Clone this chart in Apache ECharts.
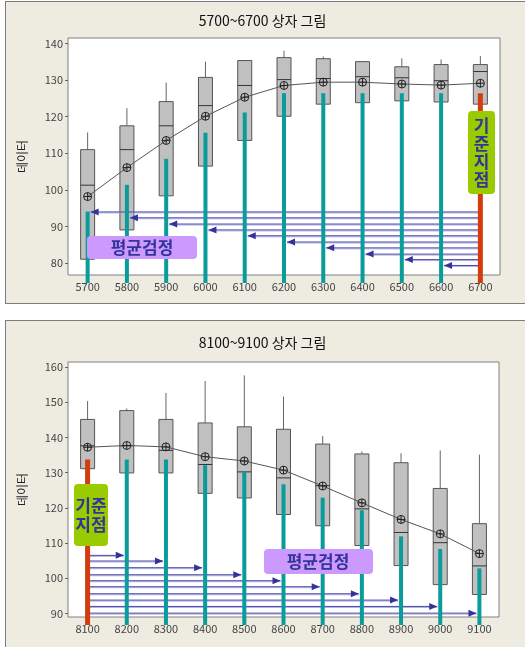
<!DOCTYPE html>
<html>
<head>
<meta charset="utf-8">
<script src="https://cdn.jsdelivr.net/npm/echarts@6/dist/echarts.min.js"></script>
<style>
html, body { margin:0; padding:0; background:#fff; overflow:hidden; }
#wrap { position:relative; width:525px; height:647px; overflow:hidden; }
.panel { position:absolute; background:#eeebe1; border:1px solid #7c7c7c; }
#main { position:absolute; left:0; top:0; width:525px; height:647px; }
</style>
</head>
<body>
<div id="wrap">
  <div class="panel" style="left:5px;top:1px;width:540px;height:301px"></div>
  <div class="panel" style="left:5px;top:320px;width:540px;height:340px"></div>
  <div id="main"></div>
</div>
<script>
const chart = echarts.init(document.getElementById('main'))

// 5700~6700
const catsA  = ['5700','5800','5900','6000','6100','6200','6300','6400','6500','6600','6700']
const hiA    = [115.7, 122.3, 129.3, 135.0, 135.3, 138.0, 136.4, 135.2, 135.9, 135.6, 136.5]
const q3A    = [111.0, 117.5, 124.1, 130.7, 135.3, 136.1, 135.8, 135.0, 133.6, 134.2, 134.2]
const medA   = [101.3, 111.0, 117.5, 123.0, 128.5, 130.1, 130.4, 130.9, 130.6, 129.8, 132.3]
const q1A    = [81.1, 89.1, 98.4, 106.5, 113.5, 120.1, 123.4, 123.8, 124.3, 124.0, 123.4]
const meanA  = [98.2, 106.1, 113.5, 120.1, 125.3, 128.5, 129.4, 129.4, 128.9, 128.6, 129.1]
const barA   = [94.1, 101.4, 108.5, 115.6, 121.1, 126.4, 126.4, 126.4, 126.4, 126.4, 126.4]
const arrowA = [94.0, 92.4, 90.7, 89.1, 87.5, 85.8, 84.2, 82.5, 81.0, 79.4]
const refA = 10

// 8100~9100
const catsB  = ['8100','8200','8300','8400','8500','8600','8700','8800','8900','9000','9100']
const hiB    = [150.3, 148.2, 152.6, 156.0, 157.6, 151.6, 140.4, 136.0, 135.5, 136.3, 135.1]
const q3B    = [145.1, 147.6, 145.1, 144.1, 143.0, 142.3, 138.1, 135.3, 132.8, 125.5, 115.5]
const medB   = [137.6, 137.6, 136.3, 132.3, 130.2, 128.5, 126.3, 119.7, 113.0, 110.1, 103.5]
const q1B    = [131.1, 129.9, 129.9, 124.1, 122.8, 118.1, 114.9, 109.3, 103.6, 98.2, 95.4]
const meanB  = [137.2, 137.7, 137.3, 134.5, 133.3, 130.7, 126.2, 121.4, 116.7, 112.6, 107.0]
const barB   = [133.7, 133.7, 133.7, 132.1, 130.2, 126.7, 122.9, 119.3, 111.9, 108.3, 102.8]
const arrowB = [106.5, 104.9, 103.0, 101.0, 99.3, 97.6, 95.6, 93.8, 92.0, 90.1]
const refB = 0

const font = 'Noto Sans CJK KR'

function boxItem(params, api) {
  const i = api.value(0)
  const hi = api.coord([i, api.value(1)])
  const q3 = api.coord([i, api.value(2)])
  const md = api.coord([i, api.value(3)])
  const q1 = api.coord([i, api.value(4)])
  const w = 14
  return {
    type: 'group',
    children: [
      { type: 'line', shape: { x1: hi[0], y1: hi[1], x2: q3[0], y2: q3[1] }, style: { stroke: '#666', lineWidth: 1 } },
      { type: 'rect', shape: { x: q3[0] - w / 2, y: q3[1], width: w, height: q1[1] - q3[1] }, style: { fill: '#c0c0c0', stroke: '#555', lineWidth: 1 } },
      { type: 'line', shape: { x1: md[0] - w / 2, y1: md[1], x2: md[0] + w / 2, y2: md[1] }, style: { stroke: '#333', lineWidth: 1 } }
    ]
  }
}

function meanItem(params, api) {
  const p = api.coord([api.value(0), api.value(1)])
  const r = 4
  return {
    type: 'group',
    children: [
      { type: 'circle', shape: { cx: p[0], cy: p[1], r: r }, style: { fill: 'none', stroke: '#222', lineWidth: 1 } },
      { type: 'line', shape: { x1: p[0] - r, y1: p[1], x2: p[0] + r, y2: p[1] }, style: { stroke: '#222', lineWidth: 1 } },
      { type: 'line', shape: { x1: p[0], y1: p[1] - r, x2: p[0], y2: p[1] + r }, style: { stroke: '#222', lineWidth: 1 } }
    ]
  }
}

function barItem(refIdx) {
  return function (params, api) {
    const i = api.value(0)
    const top = api.coord([i, api.value(1)])
    const cs = params.coordSys
    const base = cs.y + cs.height + 8
    const isRef = i === refIdx
    const w = isRef ? 5 : 4
    return {
      type: 'rect',
      shape: { x: top[0] - w / 2, y: top[1], width: w, height: base - top[1] },
      style: { fill: isRef ? '#d33c0e' : '#0a9b9b' }
    }
  }
}

function arrowItem(refIdx) {
  return function (params, api) {
    const y = api.value(1)
    const from = api.coord([refIdx, y])
    const to = api.coord([api.value(0), y])
    const dir = to[0] < from[0] ? -1 : 1
    const tip = to[0] - dir * 3
    const py = to[1]
    return {
      type: 'group',
      children: [
        { type: 'line', shape: { x1: from[0], y1: py + 1, x2: tip, y2: py + 1 }, style: { stroke: '#aeaede', lineWidth: 1 } },
        { type: 'line', shape: { x1: from[0], y1: py, x2: tip, y2: py }, style: { stroke: '#4848ab', lineWidth: 1 } },
        { type: 'polygon', shape: { points: [[tip, py], [tip - dir * 8, py - 3.5], [tip - dir * 8, py + 3.5]] }, style: { fill: '#33339a' } }
      ]
    }
  }
}

const boxDataA = catsA.map((c, i) => [i, hiA[i], q3A[i], medA[i], q1A[i]])
const boxDataB = catsB.map((c, i) => [i, hiB[i], q3B[i], medB[i], q1B[i]])
const arrowDataA = arrowA.map((v, i) => [i, v])
const arrowDataB = arrowB.map((v, i) => [i + 1, v])

let xAxisStyle = {
  type: 'category',
  boundaryGap: true,
  axisLine: { show: false },
  axisTick: { show: false },
  splitLine: { show: false },
  axisLabel: { color: '#444', fontSize: 11, fontFamily: font, margin: 6, interval: 0 }
}

let yAxisStyle = {
  type: 'value',
  minInterval: 10,
  maxInterval: 10,
  name: '데이터',
  nameLocation: 'middle',
  nameGap: 40,
  nameTextStyle: { color: '#222', fontSize: 12, fontFamily: font },
  axisLine: { show: false },
  axisTick: { show: true, length: 3, lineStyle: { color: '#666' } },
  splitLine: { show: false },
  axisLabel: {
    color: '#444', fontSize: 11, fontFamily: font, margin: 5,
    showMinLabel: false, showMaxLabel: false,
    formatter: v => (v % 10 === 0 ? v : '')
  }
}

let titleText = { color: '#111', fontSize: 14, fontWeight: 'normal', fontFamily: font }

let option = {
  animation: false,
  backgroundColor: 'rgba(0,0,0,0)',
  title: [
    { text: '5700~6700 상자 그림', left: 'center', top: 14, padding: 0, textStyle: titleText },
    { text: '8100~9100 상자 그림', left: 'center', top: 336, padding: 0, textStyle: titleText }
  ],
  grid: [
    { left: 68, top: 38, width: 432, height: 237, show: true, backgroundColor: '#fff', borderColor: '#808080', borderWidth: 1 },
    { left: 68, top: 362, width: 431, height: 255, show: true, backgroundColor: '#fff', borderColor: '#808080', borderWidth: 1 }
  ],
  xAxis: [
    Object.assign({}, xAxisStyle, { gridIndex: 0, data: catsA }),
    Object.assign({}, xAxisStyle, { gridIndex: 1, data: catsB })
  ],
  yAxis: [
    Object.assign({}, yAxisStyle, { gridIndex: 0, min: 76.8, max: 141.45 }),
    Object.assign({}, yAxisStyle, { gridIndex: 1, min: 89.0, max: 161.4 })
  ],
  series: [
    { type: 'custom', xAxisIndex: 0, yAxisIndex: 0, z: 2, renderItem: boxItem, data: boxDataA },
    { type: 'line', xAxisIndex: 0, yAxisIndex: 0, z: 3, data: meanA, symbol: 'none', lineStyle: { color: '#555', width: 1 } },
    { type: 'custom', xAxisIndex: 0, yAxisIndex: 0, z: 4, renderItem: arrowItem(refA), data: arrowDataA },
    { type: 'custom', xAxisIndex: 0, yAxisIndex: 0, z: 5, renderItem: barItem(refA), data: barA.map((v, i) => [i, v]) },
    { type: 'custom', xAxisIndex: 0, yAxisIndex: 0, z: 6, renderItem: meanItem, data: meanA.map((v, i) => [i, v]) },

    { type: 'custom', xAxisIndex: 1, yAxisIndex: 1, z: 2, renderItem: boxItem, data: boxDataB },
    { type: 'line', xAxisIndex: 1, yAxisIndex: 1, z: 3, data: meanB, symbol: 'none', lineStyle: { color: '#555', width: 1 } },
    { type: 'custom', xAxisIndex: 1, yAxisIndex: 1, z: 4, renderItem: arrowItem(refB), data: arrowDataB },
    { type: 'custom', xAxisIndex: 1, yAxisIndex: 1, z: 5, renderItem: barItem(refB), data: barB.map((v, i) => [i, v]) },
    { type: 'custom', xAxisIndex: 1, yAxisIndex: 1, z: 6, renderItem: meanItem, data: meanB.map((v, i) => [i, v]) }
  ],
  graphic: [
    { type: 'rect', z: 100, shape: { x: 87, y: 236, width: 110, height: 23, r: 4 }, style: { fill: '#cc99ff' } },
    { type: 'text', z: 101, x: 142, y: 248, style: { text: '평균검정', fill: '#333399', font: 'bold 17px "Noto Sans CJK KR"', align: 'center', verticalAlign: 'middle' } },
    { type: 'rect', z: 100, shape: { x: 468, y: 111, width: 27, height: 83, r: 4 }, style: { fill: '#99cc00' } },
    { type: 'text', z: 101, x: 481.5, y: 153, style: { text: '기\n준\n지\n점', fill: '#333399', font: 'bold 17px "Noto Sans CJK KR"', lineHeight: 18, align: 'center', verticalAlign: 'middle' } },

    { type: 'rect', z: 100, shape: { x: 74, y: 484, width: 34, height: 62, r: 4 }, style: { fill: '#99cc00' } },
    { type: 'text', z: 101, x: 91, y: 515, style: { text: '기준\n지점', fill: '#333399', font: 'bold 17px "Noto Sans CJK KR"', lineHeight: 19, align: 'center', verticalAlign: 'middle' } },
    { type: 'rect', z: 100, shape: { x: 264, y: 549, width: 109, height: 25, r: 4 }, style: { fill: '#cc99ff' } },
    { type: 'text', z: 101, x: 318, y: 561.5, style: { text: '평균검정', fill: '#333399', font: 'bold 17px "Noto Sans CJK KR"', align: 'center', verticalAlign: 'middle' } }
  ]
}
chart.setOption(option)
</script>
</body>
</html>
